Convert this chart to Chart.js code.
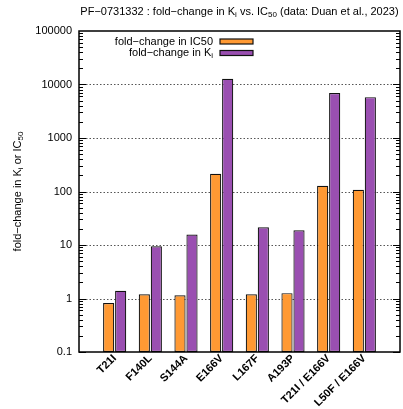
<!DOCTYPE html>
<html>
<head>
<meta charset="utf-8">
<script src="https://cdn.jsdelivr.net/npm/chart.js@4/dist/chart.umd.min.js"></script>
<style>
  html, body { margin: 0; padding: 0; background: #fff; }
  #wrap { width: 403px; height: 409px; }
</style>
</head>
<body>
<div id="wrap"><canvas id="c" width="403" height="409"></canvas></div>
<script>
// Mutations of the protease and the fold-change they cause
const categories = ['T21I', 'F140L', 'S144A', 'E166V', 'L167F', 'A193P', 'T21I / E166V', 'L50F / E166V'];
const foldIC50 = [0.82, 1.2, 1.15, 214, 1.2, 1.26, 128, 108];
const foldKi = [1.39, 9.5, 15.7, 12800, 21.5, 18.9, 6900, 5800];
const yTicks = [0.1, 1, 10, 100, 1000, 10000, 100000];

const FONT = '"Liberation Sans", Arial, Helvetica, sans-serif';
const ORANGE = '#ff9933';
const PURPLE = '#9a4fb1';

// Text runs with optional subscripts
function runsWidth(ctx, runs, size) {
  let w = 0;
  for (const r of runs) {
    ctx.font = (r.sub ? Math.round(size * 0.72) : size) + 'px ' + FONT;
    w += ctx.measureText(r.t).width;
  }
  return w;
}
function drawRuns(ctx, runs, x, y, size) {
  let cx = x;
  ctx.textBaseline = 'middle';
  ctx.textAlign = 'left';
  for (const r of runs) {
    ctx.font = (r.sub ? Math.round(size * 0.72) : size) + 'px ' + FONT;
    ctx.fillText(r.t, cx, r.sub ? y + 3 : y);
    cx += ctx.measureText(r.t).width;
  }
}

const titleRuns = [
  { t: 'PF\u22120731332 : fold\u2212change in K' }, { t: 'i', sub: true },
  { t: ' vs. IC' }, { t: '50', sub: true },
  { t: ' (data: Duan et al., 2023)' }
];
const yTitleRuns = [
  { t: 'fold\u2212change in K' }, { t: 'i', sub: true },
  { t: ' or IC' }, { t: '50', sub: true }
];
const legendItems = [
  { runs: [{ t: 'fold\u2212change in IC50' }], color: ORANGE },
  { runs: [{ t: 'fold\u2212change in K' }, { t: 'i', sub: true }], color: PURPLE }
];

const decoration = {
  id: 'decoration',
  beforeDatasetsDraw(chart) {
    const { ctx, chartArea: a, scales: { y } } = chart;
    ctx.save();
    ctx.strokeStyle = '#555';
    ctx.lineWidth = 1;
    ctx.setLineDash([1.5, 2]);
    for (const v of yTicks.slice(1, -1)) {
      const py = Math.round(y.getPixelForValue(v)) + 0.5;
      ctx.beginPath();
      ctx.moveTo(a.left, py);
      ctx.lineTo(a.right, py);
      ctx.stroke();
    }
    ctx.restore();
  },
  afterDatasetsDraw(chart) {
    const { ctx, chartArea: a, scales: { y } } = chart;
    ctx.save();
    ctx.strokeStyle = '#000';
    ctx.lineWidth = 1;
    // tick marks on both vertical borders
    for (let d = -1; d < 5; d++) {
      for (let m = 1; m <= 9; m++) {
        const v = m * Math.pow(10, d);
        const py = Math.round(y.getPixelForValue(v)) + 0.5;
        const len = m === 1 ? 7 : 4;
        ctx.beginPath();
        ctx.moveTo(a.left, py); ctx.lineTo(a.left + len, py);
        ctx.moveTo(a.right, py); ctx.lineTo(a.right - len, py);
        ctx.stroke();
      }
    }
    // frame
    ctx.lineWidth = 1.5;
    ctx.strokeRect(a.left, a.top, a.right - a.left, a.bottom - a.top);

    // legend
    legendItems.forEach((it, i) => {
      const cy = 41.5 + i * 11.5;
      const w = runsWidth(ctx, it.runs, 11);
      ctx.fillStyle = '#000';
      drawRuns(ctx, it.runs, 213 - w, cy, 11);
      ctx.fillStyle = it.color;
      ctx.fillRect(220, cy - 2.5, 33, 5);
      ctx.lineWidth = 1.2;
      ctx.strokeStyle = '#111';
      ctx.strokeRect(220, cy - 2.5, 33, 5);
    });

    // title
    ctx.fillStyle = '#000';
    const tw = runsWidth(ctx, titleRuns, 11);
    drawRuns(ctx, titleRuns, (a.left + a.right) / 2 - tw / 2, 12, 11);

    // y-axis title
    const yw = runsWidth(ctx, yTitleRuns, 11);
    ctx.translate(18, (a.top + a.bottom) / 2);
    ctx.rotate(-Math.PI / 2);
    drawRuns(ctx, yTitleRuns, -yw / 2, 0, 11);
    ctx.restore();
  }
};

const points = arr => arr.map((v, i) => ({ x: i + 1, y: v }));

new Chart(document.getElementById('c'), {
  type: 'bar',
  data: {
    datasets: [
      {
        label: 'fold\u2212change in IC50',
        data: points(foldIC50),
        backgroundColor: ORANGE,
        borderColor: '#111',
        borderWidth: 1.2,
        borderSkipped: false
      },
      {
        label: 'fold\u2212change in Ki',
        data: points(foldKi),
        backgroundColor: PURPLE,
        borderColor: '#111',
        borderWidth: 1.2,
        borderSkipped: false
      }
    ]
  },
  options: {
    responsive: false,
    animation: false,
    devicePixelRatio: 1,
    layout: { padding: { left: 0, right: 3, top: 31, bottom: 0 } },
    datasets: { bar: { categoryPercentage: 0.673, barPercentage: 0.93 } },
    plugins: { legend: { display: false }, tooltip: { enabled: false }, title: { display: false } },
    scales: {
      x: {
        type: 'linear',
        min: 0,
        max: 9,
        offset: false,
        grid: { display: false, drawTicks: false },
        border: { display: false },
        afterBuildTicks: s => { s.ticks = categories.map((c, i) => ({ value: i + 1 })); },
        afterFit: s => { s.height = 57; },
        ticks: {
          autoSkip: false,
          minRotation: 45,
          maxRotation: 45,
          padding: 0,
          color: '#000',
          font: { family: FONT, size: 11, weight: 'bold' },
          callback: v => categories[v - 1] ?? ''
        }
      },
      y: {
        type: 'logarithmic',
        min: 0.1,
        max: 100000,
        grid: { display: false, drawTicks: false },
        border: { display: false },
        afterBuildTicks: s => { s.ticks = yTicks.map(v => ({ value: v, major: true })); },
        afterFit: s => { s.width = 79; },
        ticks: {
          padding: 7,
          color: '#000',
          font: { family: FONT, size: 11 },
          callback: v => String(v)
        }
      }
    }
  },
  plugins: [decoration]
});
</script>
</body>
</html>
